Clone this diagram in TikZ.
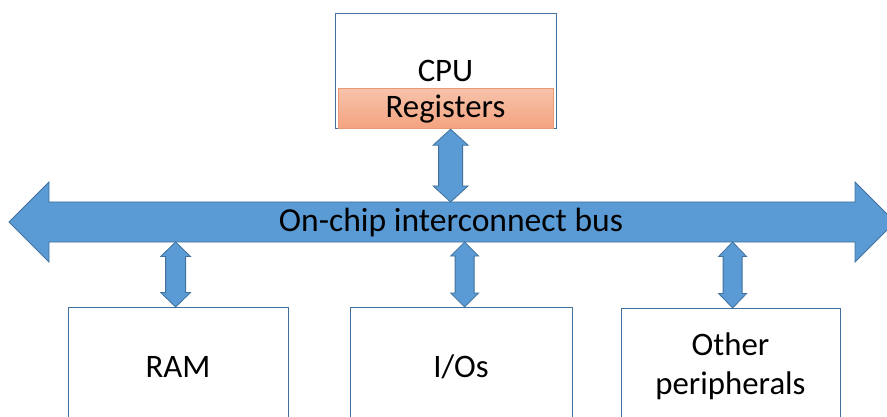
\documentclass[tikz,border=0pt]{standalone}
\usepackage{fontspec}
\setmainfont{Carlito}
\usetikzlibrary{calc}

\definecolor{busblue}{HTML}{5B9BD5}
\definecolor{edgeblue}{HTML}{41719C}
\definecolor{regtop}{HTML}{F7C3AB}
\definecolor{regbot}{HTML}{F4A37F}
\definecolor{regedge}{HTML}{E99A74}

% vertical two-headed block arrow between a top point and a bottom point
% #1 top, #2 bottom, #3 shaft half width, #4 head half width, #5 head length
\newcommand\vlink[5]{%
  \path[link] let \p1=(#1), \p2=(#2) in
    (\x1,\y1) -- (\x1+#4pt,\y1-#5pt) -- (\x1+#3pt,\y1-#5pt)
    -- (\x1+#3pt,\y2+#5pt) -- (\x1+#4pt,\y2+#5pt) -- (\x1,\y2)
    -- (\x1-#4pt,\y2+#5pt) -- (\x1-#3pt,\y2+#5pt)
    -- (\x1-#3pt,\y1-#5pt) -- (\x1-#4pt,\y1-#5pt) -- cycle;}

\begin{document}
\begin{tikzpicture}[x=1pt,y=-1pt,
  unit/.style={draw=edgeblue, line width=1.2pt, fill=white, anchor=north west,
    inner sep=0pt, minimum height=130pt},
  regs/.style={draw=regedge, line width=0.6pt, top color=regtop, bottom color=regbot,
    anchor=north west, inner sep=0pt, minimum width=215pt, minimum height=40pt},
  txt/.style={font=\fontsize{32.8}{38}\selectfont, inner sep=0pt, anchor=base},
  link/.style={fill=busblue, draw=edgeblue, line width=0.8pt, line join=miter},
]
\useasboundingbox (0,0) rectangle (887,417);
\clip (0,0) rectangle (887,417);

% CPU with its register file
\node[unit, minimum width=221pt, minimum height=115pt] (cpu) at (335,13) {};
\node[regs] (reg) at (338,88) {};
\node[txt] (cputxt) at (445.5,82) {CPU};
\node[txt] (regtxt) at (445.5,118) {Registers};

% interconnect bus
\coordinate (busW) at (9,222);
\coordinate (busE) at (895,222);
\path[link] let \p1=(busW), \p2=(busE) in
  (\x1,\y1) -- (\x1+40pt,\y1+40pt) -- (\x1+40pt,\y1+20pt)
  -- (\x2-40pt,\y1+20pt) -- (\x2-40pt,\y1+40pt) -- (\x2,\y1)
  -- (\x2-40pt,\y1-40pt) -- (\x2-40pt,\y1-20pt)
  -- (\x1+40pt,\y1-20pt) -- (\x1+40pt,\y1-40pt) -- cycle;
\node[txt, font=\fontsize{33.6}{40}\selectfont] (bustxt) at (451,232) {On-chip interconnect bus};
\coordinate (bustop) at (452,202);
\coordinate (busbot) at (452,242);

% peripheral blocks
\node[unit, minimum width=220pt] (ram) at (68,307) {};
\node[unit, minimum width=222pt] (io) at (350,307) {};
\node[unit, minimum width=219pt] (oth) at (621,308) {};
\node[txt] (ramtxt) at (178,377) {RAM};
\node[txt] (iotxt) at (461,377) {I/Os};
\node[txt] (othtxt1) at (730.5,355) {Other};
\node[txt] (othtxt2) at (730.5,394) {peripherals};

% bus connections
\coordinate (cpuport) at ([xshift=4.5pt]cpu.south);
\coordinate (ramport) at ([xshift=-3pt]ram.north);
\coordinate (ioport) at ([xshift=3pt]io.north);
\coordinate (othport) at ([xshift=1.5pt]oth.north);
\vlink{cpuport}{cpuport |- bustop}{12}{17.5}{16}
\vlink{ramport |- busbot}{ramport}{10}{15}{14.5}
\vlink{ioport |- busbot}{ioport}{9.5}{14}{14}
\vlink{othport |- busbot}{othport}{9.5}{14}{14.5}
\end{tikzpicture}
\end{document}
